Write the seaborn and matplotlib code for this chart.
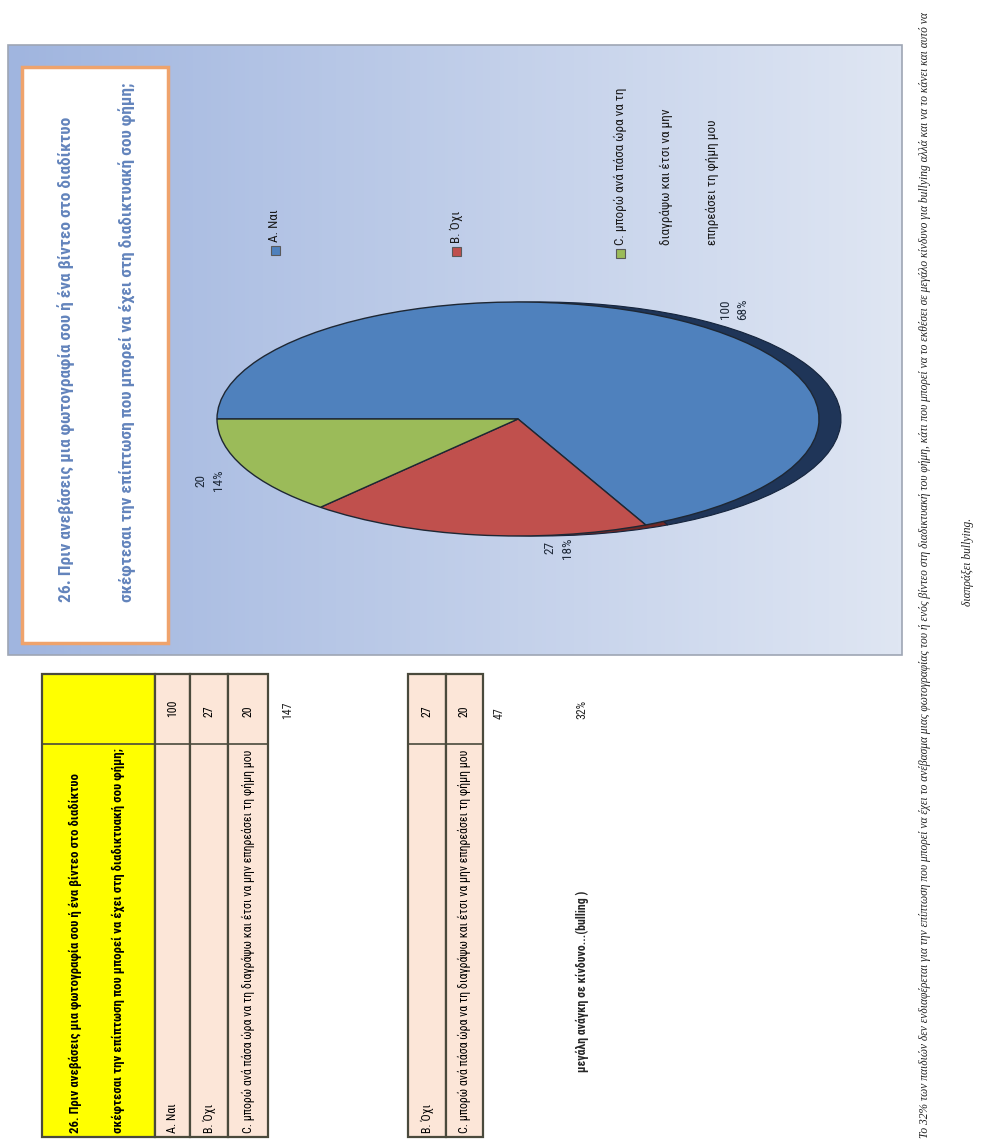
import numpy as np
import matplotlib
matplotlib.use("Agg")
import matplotlib.pyplot as plt
from matplotlib.patches import Rectangle
from matplotlib.colors import to_rgb
from matplotlib import font_manager as fm
import seaborn as sns

# ---- survey data: question 26 ----
question_l1 = "26. Πριν ανεβάσεις μια φωτογραφία σου ή ένα βίντεο στο διαδίκτυο"
question_l2 = "σκέφτεσαι την επίπτωση που μπορεί να έχει στη διαδικτυακή σου φήμη;"
answers = ["A. Ναι", "B. Όχι",
           "C. μπορώ ανά πάσα ώρα να τη διαγράψω και έτσι να μην επηρεάσει τη φήμη μου"]
legend_labels = ["A. Ναι", "B. Όχι",
                 "C. μπορώ ανά πάσα ώρα να τη\nδιαγράψω και έτσι να μην\nεπηρεάσει τη φήμη μου"]
counts = [100, 27, 20]
risk_answers = answers[1:]
risk_counts = [27, 20]
risk_note = "μεγάλη ανάγκη σε κίνδυνο...(bulling )"
caption_l1 = ("Το 32% των παιδιών δεν ενδιαφέρεται για την επίπτωση που μπορεί να έχει το ανέβασμα "
              "μιας φωτογραφίας του ή ενός βίντεο στη διαδικτυακή του φήμη, κάτι που μπορεί να το "
              "εκθέσει σε μεγάλο κίνδυνο για bullying αλλά και να το κάνει και αυτό να")
caption_l2 = "διαπράξει bullying."

total = sum(counts)
risk_total = sum(risk_counts)
shares = [round(100 * c / total) for c in counts]
risk_share = f"{round(100 * risk_total / total)}%"

# ---- styling ----
sns.set_theme(style="white")
palette = sns.color_palette(["#4F81BD", "#C0504D", "#9BBB59"])
side_palette = sns.color_palette(["#1F3558", "#6E2826", "#56702C"])


def pick_font(*names):
    for name in names:
        try:
            fm.findfont(fm.FontProperties(family=name), fallback_to_default=False)
            return name
        except ValueError:
            continue
    return "DejaVu Sans"


NARROW = pick_font("Liberation Sans Narrow", "DejaVu Sans Condensed", "Roboto Condensed")
SERIF = pick_font("Liberation Serif", "DejaVu Serif")
plt.rcParams["font.family"] = [NARROW, "DejaVu Sans"]

W, H = 984, 1147
fig = plt.figure(figsize=(W / 100, H / 100), dpi=100)
fig.patch.set_facecolor("white")

# page canvas in pixel units (y grows downward)
bg = fig.add_axes([0, 0, 1, 1])
bg.set_axis_off()

# ---- chart area with gradient fill ----
fx0, fx1, fy0, fy1 = 8, 902, 45, 655
t = np.linspace(0, 1, 256)[None, :, None]
c0, c1 = np.array(to_rgb("#A0B5DF")), np.array(to_rgb("#DFE6F3"))
bg.imshow(c0 + (c1 - c0) * t, extent=(fx0, fx1, fy1, fy0), aspect="auto", zorder=1)
bg.add_patch(Rectangle((fx0, fy0), fx1 - fx0, fy1 - fy0, fill=False,
                       edgecolor="#9EA6B4", lw=1.2, zorder=2))

# title box
bg.add_patch(Rectangle((22, 67), 146, 576, facecolor="white", edgecolor="#EFA36C",
                       lw=2.5, zorder=3))
for x, line in [(66, question_l1), (127, question_l2)]:
    bg.text(x, 602, line, rotation=90, ha="center", va="bottom", fontsize=12.5,
            fontweight="bold", color="#6384BC", zorder=4)

# legend (drawn rotated with the page)
legend_pos = [(275, 250), (456, 251), (620, 253)]
for (lx, ly), col in zip(legend_pos, palette):
    bg.add_patch(Rectangle((lx - 4.5, ly - 4.5), 9, 9, facecolor=col,
                           edgecolor="#5A5A5A", lw=0.8, zorder=4))
for (lx, ly), lab in zip(legend_pos, legend_labels):
    for i, ln in enumerate(lab.split("\n")):
        bg.text(lx + i * 46, ly - 8, ln, rotation=90, ha="center", va="bottom",
                fontsize=9.5, color="#1A1A1A", zorder=4)

# ---- tables ----
row_fill, head_fill, edge = "#FCE6D8", "#FFFF00", "#4A4A3C"
ty0, ty_split, ty1 = 674, 744, 1137


def draw_table(rows, values, x_rows, header=None):
    fills = ([head_fill] if header else []) + [row_fill] * len(values)
    for (xa, xb), fill in zip(zip(x_rows[:-1], x_rows[1:]), fills):
        bg.add_patch(Rectangle((xa, ty0), xb - xa, ty1 - ty0, facecolor=fill,
                               edgecolor=edge, lw=1.6, zorder=3))
    bg.plot([x_rows[0], x_rows[-1]], [ty_split, ty_split], color=edge, lw=1.2, zorder=4)
    offset = 0
    if header:
        hx0, hx1 = x_rows[0], x_rows[1]
        for k, ln in enumerate(header):
            bg.text(hx0 + (hx1 - hx0) * (0.3 + 0.38 * k), ty1 - 4, ln, rotation=90,
                    ha="center", va="bottom", fontsize=9.2, fontweight="bold",
                    color="black", zorder=5)
        offset = 1
    for i, (lab, val) in enumerate(zip(rows, values)):
        xa, xb = x_rows[i + offset], x_rows[i + offset + 1]
        xc = (xa + xb) / 2
        bg.text(xc, ty1 - 4, lab, rotation=90, ha="center", va="bottom",
                fontsize=8.6, color="black", zorder=5)
        bg.text(xc, 717, str(val), rotation=90, ha="center", va="bottom",
                fontsize=8.6, color="black", zorder=5)


draw_table(answers, counts, [42, 155, 190, 228, 268], header=[question_l1, question_l2])
bg.text(288, 719, str(total), rotation=90, ha="center", va="bottom", fontsize=8.6)

draw_table(risk_answers, risk_counts, [408, 446, 483])
bg.text(499, 719, str(risk_total), rotation=90, ha="center", va="bottom", fontsize=8.6)
bg.text(582, 719, risk_share, rotation=90, ha="center", va="bottom", fontsize=8.6)
bg.text(582, 1072, risk_note, rotation=90, ha="center", va="bottom", fontsize=8.6,
        fontweight="bold")

# ---- caption ----
for x, yc, line in [(925, 575, caption_l1), (968, 562, caption_l2)]:
    bg.text(x, yc, line, rotation=90, ha="center", va="center", fontsize=8.3,
            style="italic", family=[SERIF, "DejaVu Serif"], color="#222222")

bg.set_xlim(0, W)
bg.set_ylim(H, 0)

# ---- pie (3D-look ellipse) ----
cx, cy, ax_r, ay_r = 518, 419, 301, 117
K = 1.5
pie_ax = fig.add_axes([(cx - ax_r * K) / W, (H - cy - ay_r * K) / H,
                       2 * ax_r * K / W, 2 * ay_r * K / H])
pie_ax.set_zorder(5)
pie_ax.patch.set_alpha(0)
side_shift = 22 / ax_r
pie_ax.pie(counts, colors=side_palette, startangle=180, counterclock=False,
           center=(side_shift, 0), wedgeprops=dict(linewidth=0.8, edgecolor="#15243C"))
pie_ax.pie(counts, colors=palette, startangle=180, counterclock=False,
           wedgeprops=dict(linewidth=1.0, edgecolor="#1E2733"))

# data labels: value and share
label_nudge = [-5, 15, 2.5]
label_radius = [1.18, 1.11, 1.15]
start = 180.0
for c, s, nd, rr in zip(counts, shares, label_nudge, label_radius):
    sweep = 360.0 * c / total
    mid = np.deg2rad(start - sweep / 2 + nd)
    pie_ax.text(rr * np.cos(mid), rr * np.sin(mid), f"{c}\n{s}%", rotation=90,
                ha="center", va="center", fontsize=9.5, color="#1F2A3A",
                linespacing=1.45, multialignment="center")
    start -= sweep

pie_ax.set_aspect("auto")
pie_ax.set_xlim(-K, K)
pie_ax.set_ylim(-K, K)
pie_ax.set_axis_off()

fig.savefig("out.png", dpi=100)
